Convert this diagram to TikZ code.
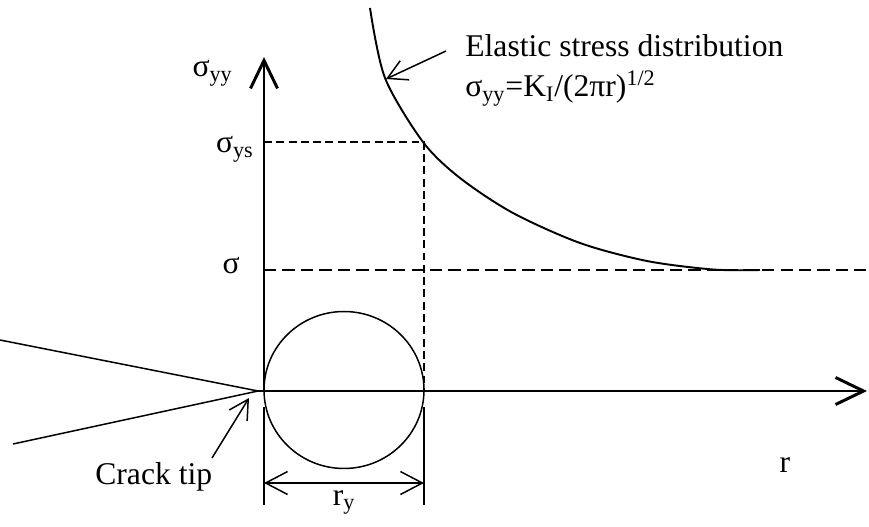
\documentclass[tikz,border=0pt]{standalone}
\usepackage{fontspec}
\setmainfont{Liberation Serif}
\usetikzlibrary{arrows.meta}

\tikzset{
  axisline/.style={line width=1.7pt, -{Straight Barb[length=0.56cm, width=0.54cm]}},
  thinline/.style={line width=0.85pt},
  dashline/.style={line width=0.85pt, dash pattern=on 4.5pt off 2.5pt},
  longdash/.style={line width=0.85pt, dash pattern=on 7pt off 3.5pt},
  pointer/.style={line width=0.85pt, -{Straight Barb[length=0.38cm, width=0.42cm]}},
  dimline/.style={line width=0.85pt, {Straight Barb[length=0.44cm, width=0.46cm]}-{Straight Barb[length=0.44cm, width=0.46cm]}},
  lbl/.style={font=\fontsize{18}{21}\selectfont, inner sep=0pt}
}

\begin{document}
\begin{tikzpicture}[x=0.02cm, y=-0.02cm]
  \useasboundingbox (0,0) rectangle (869,527);

  % axes and crack
  \coordinate (O) at (264,391);
  \coordinate (tip) at (258,391);
  \coordinate (ytop) at (264,57);
  \coordinate (xend) at (867,391);
  \coordinate (crackup) at (0,340);
  \coordinate (crackdown) at (13,444);

  \draw[axisline] (O) -- (ytop);
  \draw[axisline] (tip) -- (xend);
  \draw[thinline] (crackup) -- (tip) -- (crackdown);

  % plastic zone
  \coordinate (zone) at (344,390);
  \draw[thinline] (zone) ellipse [x radius=1.6cm, y radius=1.57cm];

  % stress levels
  \coordinate (ys) at (264,142);
  \coordinate (ysc) at (424,142);
  \coordinate (ryx) at (424,391);
  \coordinate (sg) at (264,270);
  \coordinate (sgend) at (866,270);

  \draw[dashline] (ys) -- (ysc) -- (ryx);
  \draw[longdash] (sg) -- (sgend);

  % elastic curve
  \draw[line width=1.1pt] plot[smooth] coordinates {(370,8) (385,78) (423,142) (460,178) (513,213) (580,243) (647,261) (713,269.5) (760,270)};

  % dimension r_y
  \coordinate (ext1a) at (264,407);
  \coordinate (ext1b) at (264,505);
  \coordinate (ext2a) at (424,407);
  \coordinate (ext2b) at (424,505);
  \coordinate (dim1) at (264,483);
  \coordinate (dim2) at (424,483);
  \draw[thinline] (ext1a) -- (ext1b);
  \draw[thinline] (ext2a) -- (ext2b);
  \draw[dimline] (dim1) -- (dim2);

  % labels
  \node[lbl, anchor=base east] (syy) at (233,77) {σ\textsubscript{yy}};
  \node[lbl, anchor=base east] (sys) at (254,153) {σ\textsubscript{ys}};
  \node[lbl, anchor=base east] (sgm) at (240,273) {σ};
  \node[lbl, anchor=base] (rr) at (785,472) {r};
  \node[lbl, anchor=base] (ry) at (344,505) {r\textsubscript{y}};
  \node[lbl, anchor=base west] (elastic) at (465,57) {Elastic stress distribution};
  \node[lbl, anchor=base west] (formula) at (465,97) {σ\textsubscript{yy}=K\textsubscript{I}/(2πr)\textsuperscript{1/2}};
  \node[lbl, anchor=base west] (cracklbl) at (95,484) {Crack tip};

  % pointers
  \coordinate (elstart) at (446,51);
  \coordinate (elend) at (386,79);
  \coordinate (ctstart) at (212,458);
  \coordinate (ctend) at (249,398);
  \draw[pointer] (elstart) -- (elend);
  \draw[pointer] (ctstart) -- (ctend);
\end{tikzpicture}
\end{document}
